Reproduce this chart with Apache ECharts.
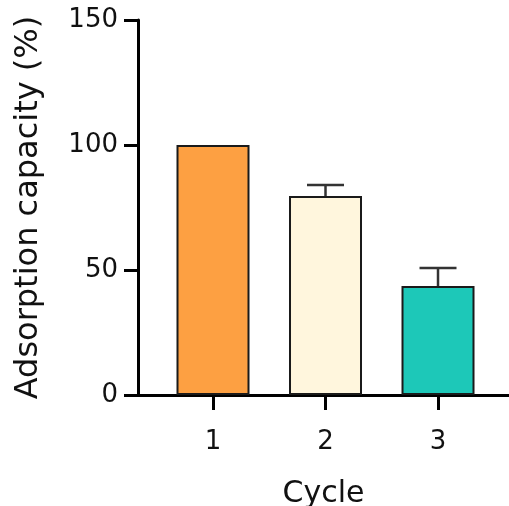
<!DOCTYPE html>
<html>
<head>
<meta charset="utf-8">
<script src="https://cdn.jsdelivr.net/npm/echarts@6/dist/echarts.min.js"></script>
<style>
  html, body { margin: 0; padding: 0; background: #fff; }
  #chart { width: 509px; height: 506px; }
</style>
</head>
<body>
<div id="chart"></div>
<script>
// data
const cycles = [1, 2, 3]
const capacity = [100, 79.6, 43.6]
const errorUp = [0, 4.4, 7.2]
const barColors = ['#FDA042', '#FFF6DD', '#1DC8B8']
const yTicks = [0, 50, 100, 150]

const chart = echarts.init(document.getElementById('chart'))

const font = 'DejaVu Sans'

const option = {
  animation: false,
  grid: { left: 138, right: 0, top: 20, bottom: 111, containLabel: false, outerBoundsMode: 'none' },
  xAxis: {
    type: 'value',
    min: 1 / 3,
    max: 3.631,
    name: 'Cycle',
    nameLocation: 'middle',
    nameGap: 84,
    nameTextStyle: { fontFamily: font, fontSize: 30, color: '#111' },
    splitLine: { show: false },
    axisLine: { show: true, lineStyle: { color: '#000', width: 3 } },
    axisTick: { show: true, length: 15, lineStyle: { color: '#000', width: 3 }, customValues: cycles },
    axisLabel: { fontFamily: font, fontSize: 26, color: '#111', margin: 34, customValues: cycles }
  },
  yAxis: {
    type: 'value',
    min: yTicks[0],
    max: yTicks[yTicks.length - 1],
    interval: 50,
    name: 'Adsorption capacity (%)',
    nameLocation: 'middle',
    nameGap: 93,
    nameTextStyle: { fontFamily: font, fontSize: 32, color: '#111' },
    splitLine: { show: false },
    axisLine: { show: true, lineStyle: { color: '#000', width: 3 } },
    axisTick: { show: true, length: 14, lineStyle: { color: '#000', width: 3 } },
    axisLabel: { fontFamily: font, fontSize: 26, color: '#111', margin: 20 }
  },
  series: [
    {
      type: 'bar',
      barWidth: 73,
      data: cycles.map((c, i) => ({
        value: [c, capacity[i]],
        itemStyle: { color: barColors[i] }
      })),
      itemStyle: { borderColor: '#1a1a1a', borderWidth: 2 },
      z: 3
    },
    {
      // error bars (upper only), drawn under the bars
      type: 'custom',
      data: cycles.map((c, i) => [c, capacity[i], capacity[i] + errorUp[i]]),
      renderItem: function (params, api) {
        if (api.value(2) <= api.value(1)) return null
        const base = api.coord([api.value(0), api.value(1)])
        const top = api.coord([api.value(0), api.value(2)])
        const half = 18.5
        const style = { stroke: '#333', lineWidth: 2.5, fill: null }
        return {
          type: 'group',
          children: [
            { type: 'line', shape: { x1: base[0], y1: base[1], x2: top[0], y2: top[1] }, style: style },
            { type: 'line', shape: { x1: top[0] - half, y1: top[1], x2: top[0] + half, y2: top[1] }, style: style }
          ]
        }
      },
      z: 2
    }
  ]
}

chart.setOption(option)
</script>
</body>
</html>
